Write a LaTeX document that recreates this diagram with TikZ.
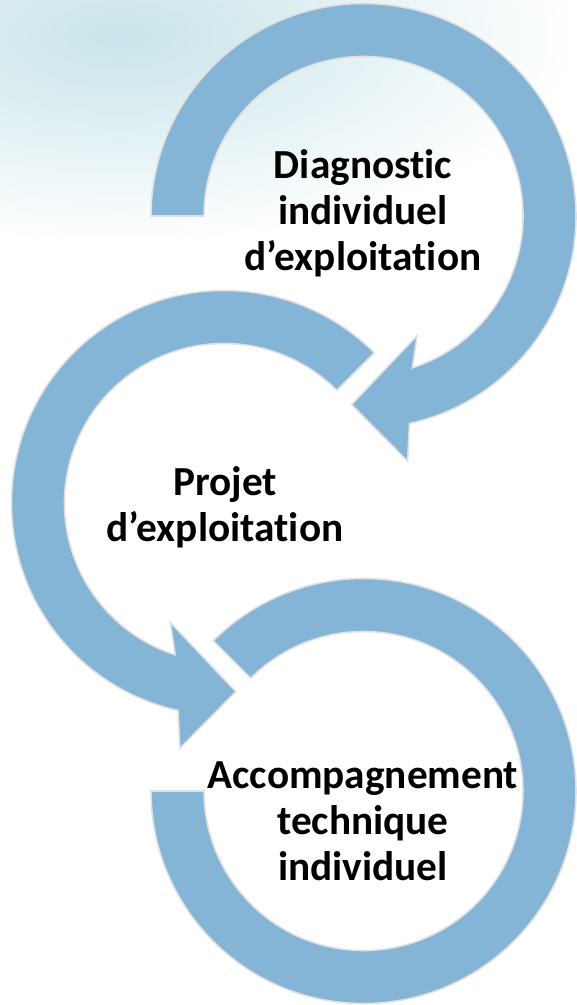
\documentclass[tikz,border=0pt]{standalone}
\usepackage{fontspec}
\setmainfont{Carlito}[Ligatures=NoCommon]
\usepackage{tikz}
\definecolor{bandblue}{RGB}{132,181,215}
\definecolor{bandedge}{RGB}{224,224,224}
\definecolor{washblue}{RGB}{200,228,234}

\begin{document}
\begin{tikzpicture}[x=0.02cm,y=0.02cm,
  band/.style={fill=bandblue,draw=bandedge,line width=0.9pt},
  cycletext/.style={align=center,inner sep=0pt,font=\bfseries\fontsize{23.5}{26.2}\selectfont}]
\useasboundingbox (0,0) rectangle (577,-1005);
% pale wash in the top left corner
\begin{scope}
\clip (0,0) rectangle (577,-1005);
\shade[inner color=washblue,outer color=white] (120,-35) ellipse [x radius=460,y radius=210];
\end{scope}
\coordinate (c1) at (363.5,-216);
\coordinate (c2) at (224,-503);
\coordinate (c3) at (363.5,-791);
% first arrow, clockwise
\draw[band,shift={(c1)}] (180:212.5) arc[start angle=180,end angle=-77.5,radius=212.5]
  -- (-79.8:249) -- (-93.6:189) -- (-65.8:131) -- (-72.2:159.5)
  arc[start angle=-72.2,end angle=180,radius=159.5] -- cycle;
% second arrow, anticlockwise
\draw[band,shift={(c2)}] (45:212.5) arc[start angle=45,end angle=257.5,radius=212.5]
  -- (259.8:249) -- (273.6:189) -- (245.8:131) -- (252.2:159.5)
  arc[start angle=252.2,end angle=45,radius=159.5] -- cycle;
% third ring, open at the top left
\draw[band,shift={(c3)}] (180:212.5) arc[start angle=180,end angle=495,radius=212.5]
  -- (135:159.5) arc[start angle=495,end angle=180,radius=159.5] -- cycle;
\node[cycletext] (diag) at (363,-213) {Diagnostic\\individuel\\d’exploitation};
\node[cycletext] (projet) at (225,-507) {Projet\\d’exploitation};
\node[cycletext] (accomp) at (363,-821) {Accompagnement\\technique\\individuel};
\end{tikzpicture}
\end{document}
